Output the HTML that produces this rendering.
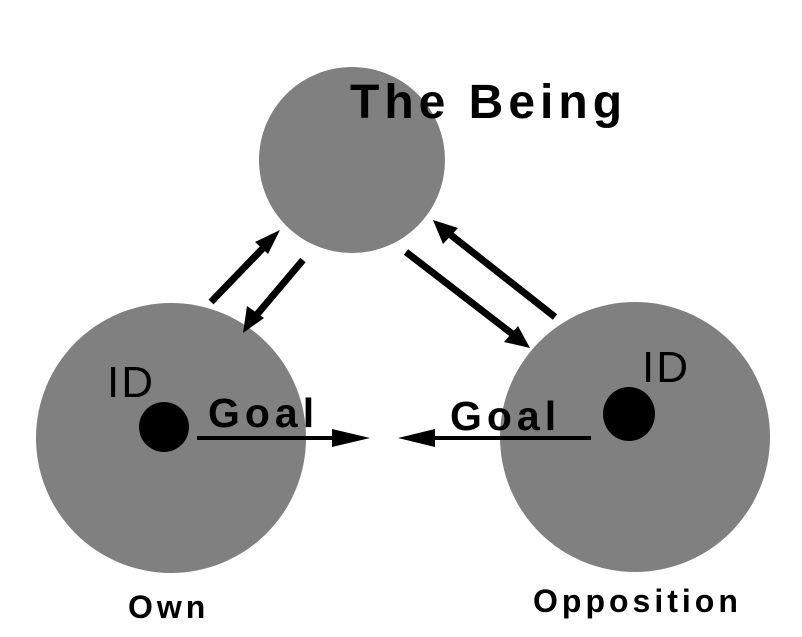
<!DOCTYPE html>
<html><head><style>html,body{margin:0;padding:0;background:#fff;}svg{display:block}</style></head>
<body>
<svg width="802" height="637" viewBox="0 0 802 637" xmlns="http://www.w3.org/2000/svg" font-family="Liberation Sans, Arial, sans-serif">
<rect width="802" height="637" fill="#fff"/>
<circle cx="352" cy="160" r="93" fill="#808080"/>
<circle cx="171" cy="438" r="135" fill="#808080"/>
<circle cx="635" cy="437" r="135" fill="#808080"/>
<text x="350" y="118" font-size="48" font-weight="bold" letter-spacing="5" fill="#000">The Being</text>
<g stroke="#000" stroke-width="7" fill="#000">
<line x1="211" y1="302" x2="265" y2="246"/>
<line x1="303" y1="260" x2="254" y2="318"/>
<line x1="406" y1="252" x2="515" y2="336"/>
<line x1="555" y1="317" x2="447" y2="232"/>
</g>
<g fill="#000">
<polygon points="280,230 255,242 268,254"/>
<polygon points="243,333 247,306 264,318"/>
<polygon points="530,348 504,342 518,326"/>
<polygon points="433,220 443,244 458,228"/>
</g>
<g stroke="#000" stroke-width="4">
<line x1="197" y1="438" x2="335" y2="438"/>
<line x1="430" y1="438" x2="591" y2="438"/>
</g>
<polygon points="370,438 332,429 332,447" fill="#000"/>
<polygon points="398,438 435,429 435,447" fill="#000"/>
<ellipse cx="164" cy="427" rx="25" ry="25" fill="#000"/>
<ellipse cx="629" cy="414" rx="26" ry="27" fill="#000"/>
<text x="107" y="397" font-size="44" fill="#000" letter-spacing="2">ID</text>
<text x="642" y="382" font-size="44" fill="#000" letter-spacing="2">ID</text>
<text x="208" y="427" font-size="41" font-weight="bold" letter-spacing="5" fill="#000">Goal</text>
<text x="450" y="430" font-size="41" font-weight="bold" letter-spacing="5" fill="#000">Goal</text>
<text x="128" y="618" font-size="32" font-weight="bold" letter-spacing="4" fill="#000">Own</text>
<text x="533" y="612" font-size="32" font-weight="bold" letter-spacing="4" fill="#000">Opposition</text>
</svg>
</body></html>
